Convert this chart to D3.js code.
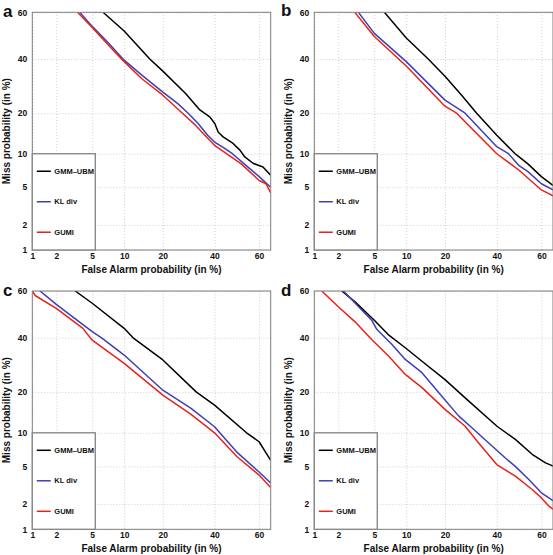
<!DOCTYPE html>
<html><head><meta charset="utf-8">
<script src="https://cdn.jsdelivr.net/npm/d3@7"></script>
<style>
body{margin:0;background:#fff}
svg{display:block}
text{font-family:"Liberation Sans",Arial,Helvetica,sans-serif;font-weight:bold;fill:#111}
</style>
</head><body>
<svg id="chart" width="553" height="555"></svg>
<script>
// ---------- data (percent) ----------
const tickValues = [1, 2, 5, 10, 20, 40, 60];
const xRange = [1, 65];
const yRange = [1, 60];
const seriesNames = ["GMM\u2013UBM", "KL div", "GUMI"];
const seriesColors = ["#000000", "#3f3fb5", "#e3241c"];
const panelLabels = ["a", "b", "c", "d"];

// [False alarm %, Miss %]
const gmmA = [[6.4,60],[10,52],[16.1,40],[20,35],[28,26.5],[33.7,21],[37.9,18.9],[40.1,17],[41.6,14.8],[43.8,13.6],[48.3,12.1],[51.4,10.7],[53.6,9.4],[57.3,8.3],[61.7,7.7],[65,6.5]];
const klA  = [[3.7,60],[5,54],[7,47.5],[10,39.5],[14,33.4],[20,27],[25,23.1],[29,20],[33,17],[37,14],[40,12.4],[44,11.2],[48,10],[54,8],[60,6.3],[65,5.0]];
const gumiA= [[3.5,60],[5,53.5],[7,46.5],[10,38.9],[14,32],[20,25.9],[26.8,20],[32,16.5],[35,14.5],[40,11.7],[45.3,10],[52,8.2],[60,5.8],[63,5.4],[65,4.4]];

const gmmB = [[6.3,60],[10,49],[15.1,40],[20,33],[25.7,25.9],[31.5,20],[40,14],[48.2,10],[50,9.4],[54,8.2],[60,6.3],[65,5.2]];
const klB  = [[3.4,60],[5,51],[10,38.9],[20,24.2],[27,20],[40,11.4],[45.2,10],[50,7.9],[54,7],[60,5.4],[65,4.7]];
const gumiB= [[3.1,60],[5,49.6],[10,37.1],[20,22.2],[23.9,20],[40,10],[50,7.2],[60,4.7],[65,4.1]];

const gmmC = [[3.3,60],[5,54.8],[10,44],[11.9,40],[20,31.1],[32.3,20],[40,16.3],[54.4,10],[60,8.4],[65,5.7]];
const klC  = [[1.26,60],[2,54.3],[5,42.6],[6.2,40],[10,33],[20,20.6],[30,15.5],[40,11.2],[42.3,10],[50,6.8],[60,4.4],[65,3.4]];
const gumiC= [[1,60],[1.1,58],[2,52.6],[4,44],[5,39],[10,29.8],[20,19.1],[30,14],[40,10],[50,6.2],[60,4.1],[65,3.05]];

const gmmD = [[2.2,60],[3.1,55.5],[5,47.5],[7,41],[9.8,35.9],[13.5,30.6],[20,24],[27,18.3],[40.1,11.3],[48.3,8.8],[55.9,6.5],[61.8,5.4],[65.3,5.0]];
const klD  = [[2.3,60],[3.1,55],[4.7,47.5],[5.3,43.6],[7.4,37.3],[9.8,31.3],[13.5,26.4],[18.1,19.8],[24.6,13.6],[29.6,11],[36.5,8.2],[43.8,6],[48.3,5],[54.4,3.7],[60,2.67],[65.3,2.16]];
const gumiD= [[1.25,60],[2,53.3],[3.1,46.9],[4.7,39.3],[6.9,32.6],[9.8,25.8],[13.5,21.4],[20,15.2],[27,11.3],[32.3,8.2],[40,5.2],[48.3,4],[55.9,2.9],[60,2.35],[63.2,1.9],[65.3,1.73]];

const panelSeries = [[gmmA, klA, gumiA],[gmmB, klB, gumiB],[gmmC, klC, gumiC],[gmmD, klD, gumiD]];

// ---------- layout ----------
const panelBoxes = [
  {x:32.3, y:12.3, w:238.4, h:237.7, lx:3,   ly:16.5},
  {x:314.3,y:12.3, w:238.7, h:237.7, lx:281, ly:15.5},
  {x:32.3, y:291,  w:238.4, h:238.3, lx:3,   ly:296},
  {x:314.3,y:291,  w:238.7, h:238.3, lx:281, ly:296}
];

// inverse normal CDF (Acklam)
function probit(p){
  const a=[-3.969683028665376e+01,2.209460984245205e+02,-2.759285104469687e+02,1.383577518672690e+02,-3.066479806614716e+01,2.506628277459239e+00];
  const b=[-5.447609879822406e+01,1.615858368580409e+02,-1.556989798598866e+02,6.680131188771972e+01,-1.328068155288572e+01];
  const c=[-7.784894002430293e-03,-3.223964580411365e-01,-2.400758277161838e+00,-2.549732539343734e+00,4.374664141464968e+00,2.938163982698783e+00];
  const d=[7.784695709041462e-03,3.224671290700398e-01,2.445134137142996e+00,3.754408661907416e+00];
  const pl=0.02425, ph=1-pl; let q,r;
  if(p<pl){q=Math.sqrt(-2*Math.log(p));return (((((c[0]*q+c[1])*q+c[2])*q+c[3])*q+c[4])*q+c[5])/((((d[0]*q+d[1])*q+d[2])*q+d[3])*q+1);}
  if(p<=ph){q=p-0.5;r=q*q;return (((((a[0]*r+a[1])*r+a[2])*r+a[3])*r+a[4])*r+a[5])*q/(((((b[0]*r+b[1])*r+b[2])*r+b[3])*r+b[4])*r+1);}
  q=Math.sqrt(-2*Math.log(1-p));return -(((((c[0]*q+c[1])*q+c[2])*q+c[3])*q+c[4])*q+c[5])/((((d[0]*q+d[1])*q+d[2])*q+d[3])*q+1);
}
const pz = v => probit(v/100);

const svg = d3.select("#chart");

panelBoxes.forEach((box, pi) => {
  const x = d3.scaleLinear().domain(xRange.map(pz)).range([0, box.w]);
  const y = d3.scaleLinear().domain(yRange.map(pz)).range([box.h, 0]);
  const g = svg.append("g").attr("transform", `translate(${box.x},${box.y})`);

  // grid
  const gx = g.append("g").attr("transform", `translate(0,${box.h})`)
    .call(d3.axisBottom(x).tickValues(tickValues.map(pz)).tickSize(-box.h).tickFormat(""));
  const gy = g.append("g")
    .call(d3.axisLeft(y).tickValues(tickValues.map(pz)).tickSize(-box.w).tickFormat(""));
  [gx, gy].forEach(a => {
    a.select(".domain").remove();
    a.selectAll("line").attr("stroke", "#c4c4c4").attr("stroke-width", 0.8).attr("stroke-dasharray", "1,2");
  });

  // curves
  const clipId = "clip" + pi;
  g.append("clipPath").attr("id", clipId).append("rect").attr("width", box.w).attr("height", box.h);
  const line = d3.line().x(d => x(pz(d[0]))).y(d => y(pz(d[1])));
  panelSeries[pi].forEach((s, si) => {
    g.append("path").datum(s).attr("clip-path", `url(#${clipId})`)
      .attr("fill", "none").attr("stroke", seriesColors[si]).attr("stroke-width", 1.5)
      .attr("stroke-linejoin", "round").attr("d", line);
  });

  // frame
  g.append("rect").attr("width", box.w).attr("height", box.h)
    .attr("fill", "none").attr("stroke", "#7d7d7d").attr("stroke-width", 1);

  // tick labels
  const ax = g.append("g").attr("transform", `translate(0,${box.h})`)
    .call(d3.axisBottom(x).tickValues(tickValues.map(pz)).tickSize(0).tickPadding(3)
      .tickFormat((d, i) => tickValues[i]));
  const ay = g.append("g")
    .call(d3.axisLeft(y).tickValues(tickValues.map(pz)).tickSize(0).tickPadding(5)
      .tickFormat((d, i) => tickValues[i]));
  [ax, ay].forEach(a => {
    a.select(".domain").remove();
    a.selectAll("text").attr("font-size", 8.5).attr("font-family", null).style("font-weight", "bold").attr("fill", "#111");
  });

  // legend
  const lg = g.append("g").attr("transform", `translate(0,${y(pz(10))})`);
  const lh = box.h - y(pz(10));
  lg.append("rect").attr("width", 63).attr("height", lh)
    .attr("fill", "#fff").attr("stroke", "#8a8a8a").attr("stroke-width", 1.4);
  seriesNames.forEach((n, i) => {
    const yy = 17.5 + i * 30.5;
    lg.append("line").attr("x1", 4.5).attr("x2", 18.5).attr("y1", yy).attr("y2", yy)
      .attr("stroke", seriesColors[i]).attr("stroke-width", 1.5);
    lg.append("text").attr("x", 22).attr("y", yy).attr("dy", "0.35em")
      .attr("font-size", 7.5).text(n);
  });

  // axis titles
  g.append("text").attr("x", box.w / 2).attr("y", box.h + 23)
    .attr("text-anchor", "middle").attr("font-size", 10).text("False Alarm probability (in %)");
  g.append("text").attr("transform", `translate(${-box.x + 10 + (pi % 2 ? 281.5 : 0)},${box.h / 2}) rotate(-90)`)
    .attr("text-anchor", "middle").attr("font-size", 10).text("Miss probability (in %)");

  // panel letter
  svg.append("text").attr("x", box.lx).attr("y", box.ly).attr("font-size", 17).text(panelLabels[pi]);
});
</script>
</body></html>
